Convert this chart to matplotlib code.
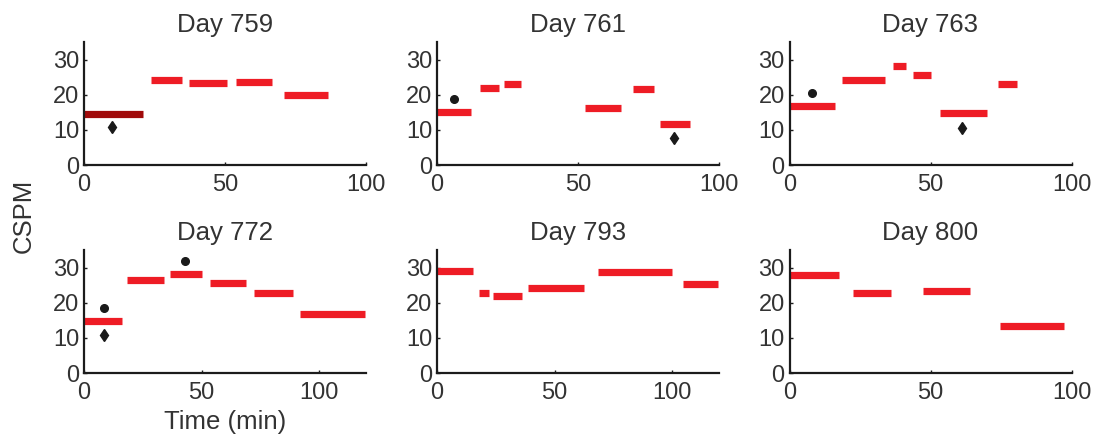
import matplotlib
matplotlib.use("Agg")
import matplotlib.pyplot as plt

plt.rcParams['font.family'] = ['Liberation Sans', 'DejaVu Sans']

days = ["Day 759", "Day 761", "Day 763", "Day 772", "Day 793", "Day 800"]
xmax = [100, 100, 100, 120, 120, 100]

# segment starts, ends, values (CSPM)
d759_start = [0, 23.6, 37.3, 53.9, 70.9]
d759_end = [20.8, 34.6, 50.6, 66.6, 86.6]
d759_val = [14.5, 24.1, 23.3, 23.6, 19.9]

d761_start = [0, 15.2, 23.7, 52.4, 69.4, 79.0]
d761_end = [11.9, 21.9, 29.7, 65.2, 77.1, 89.8]
d761_val = [15.0, 22.0, 23.0, 16.3, 21.5, 11.7]

d763_start = [0, 18.5, 36.7, 43.8, 53.2, 74.0]
d763_end = [16.0, 33.9, 41.2, 50.2, 69.9, 80.6]
d763_val = [16.7, 24.2, 28.3, 25.7, 14.8, 23.1]

d772_start = [0, 18.5, 36.6, 53.7, 72.4, 92.0]
d772_end = [16.3, 34.2, 50.1, 68.9, 88.8, 119.7]
d772_val = [14.8, 26.5, 28.2, 25.7, 22.7, 16.7]

d793_start = [0, 17.7, 23.9, 38.7, 68.6, 104.7]
d793_end = [15.4, 22.1, 36.0, 62.6, 100.0, 119.6]
d793_val = [29.0, 22.7, 21.8, 24.3, 28.7, 25.3]

d800_start = [0, 22.4, 47.4, 74.8]
d800_end = [17.4, 36.0, 64.0, 97.5]
d800_val = [28.0, 22.9, 23.2, 13.3]

# first segment of Day 759 highlighted (dark red)
highlight = [(0, 0)]

# black dots (x, y) per panel
dots_x = [[], [6.2], [8.0], [8.4, 43.0], [], []]
dots_y = [[], [18.7], [20.5], [18.4, 31.8], [], []]
# black diamonds
diam_x = [[9.8], [84.2], [61.0], [8.4], [], []]
diam_y = [[10.8], [7.8], [10.6], [10.9], [], []]

starts = [d759_start, d761_start, d763_start, d772_start, d793_start, d800_start]
ends = [d759_end, d761_end, d763_end, d772_end, d793_end, d800_end]
vals = [d759_val, d761_val, d763_val, d772_val, d793_val, d800_val]

RED = '#ee1c25'
DARK = '#a00a0a'
TXT = '#333333'
AX = '#1c1c1c'

fig = plt.figure(figsize=(11.03, 4.41), dpi=100)
W, H = 1103, 441
lefts = [84, 437, 789.5]
bottoms = [165, 373]
aw, ah = 282, 123

for i in range(6):
    r, c = divmod(i, 3)
    ax = fig.add_axes([lefts[c] / W, 1 - bottoms[r] / H, aw / W, ah / H])
    for j, (s, e, v) in enumerate(zip(starts[i], ends[i], vals[i])):
        col = DARK if (i, j) in highlight else RED
        ax.plot([s, e], [v, v], color=col, lw=5.2, solid_capstyle='butt', zorder=2)
    if dots_x[i]:
        ax.plot(dots_x[i], dots_y[i], 'o', color='#1a1a1a', ms=5.5, zorder=3)
    if diam_x[i]:
        ax.plot(diam_x[i], diam_y[i], 'd', color='#1a1a1a', ms=6.5, zorder=3)
    ax.set_xlim(0, xmax[i])
    ax.set_ylim(0, 35)
    ax.set_yticks([0, 10, 20, 30])
    ax.set_xticks([0, 50, 100])
    for sp in ['top', 'right']:
        ax.spines[sp].set_visible(False)
    for sp in ['left', 'bottom']:
        ax.spines[sp].set_linewidth(1.6)
        ax.spines[sp].set_color(AX)
    ax.tick_params(direction='in', length=2.5, width=1, colors=AX,
                   labelsize=17, labelcolor=TXT)
    ax.tick_params(axis='x', pad=6.5)
    ax.tick_params(axis='y', pad=3.5)
    ax.set_title(days[i], fontsize=18.5, color=TXT, pad=7)
    ax.patch.set_visible(False)
    if i == 3:
        ax.set_xlabel("Time (min)", fontsize=18.5, color=TXT, labelpad=4)

fig.text(24 / W, 1 - 216 / H, "CSPM", rotation=90, fontsize=18.5, color=TXT,
         ha='center', va='center')

fig.savefig("out.png", dpi=100)
